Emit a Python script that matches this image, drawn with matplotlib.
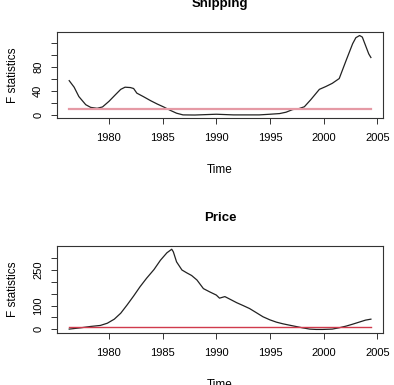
import matplotlib
matplotlib.use('Agg')
import matplotlib.pyplot as plt

plt.rcParams['font.family'] = ['Liberation Sans', 'DejaVu Sans']

# Shipping F statistics
ship_years = [1976.3, 1976.76, 1977.2, 1977.84, 1978.3, 1978.9, 1979.4, 1980.0, 1980.6,
              1981.1, 1981.5, 1982.0, 1982.3, 1982.6, 1983.2, 1983.9, 1984.5, 1985.1,
              1985.7, 1986.3, 1986.9, 1988.0, 1990.0, 1991.6, 1994.0, 1995.0, 1995.9,
              1996.5, 1997.1, 1997.7, 1998.2, 1998.8, 1999.6, 2000.2, 2000.8, 2001.45,
              2002.1, 2002.7, 2003.0, 2003.35, 2003.6, 2003.9, 2004.2, 2004.4]
ship_f = [57.5, 46.6, 31, 17.5, 13, 11.5, 13.7, 23, 34,
          43, 46.6, 46, 44.4, 36.7, 31, 24, 18.6, 13.7,
          8.2, 3.3, 0.5, 0.3, 1.6, 0.5, 0.5, 1.6, 2.7,
          5, 9.3, 11, 14, 25.8, 43, 47.7, 53, 61,
          91.5, 119, 129, 132.6, 130, 116, 102, 96]
ship_crit = 9.9

# Price F statistics
price_years = [1976.3, 1977.4, 1978.3, 1979.2, 1979.85, 1980.5, 1981.1, 1981.7, 1982.3,
               1982.9, 1983.5, 1984.2, 1984.8, 1985.4, 1985.85, 1986.0, 1986.3, 1986.8,
               1987.25, 1987.7, 1988.2, 1988.8, 1989.4, 1990.0, 1990.3, 1990.6, 1990.8,
               1991.3, 1991.9, 1992.5, 1993.1, 1993.7, 1994.35, 1995.0, 1995.6, 1996.2,
               1996.8, 1997.4, 1998.0, 1998.7, 1999.3, 1999.9, 2000.8, 2001.45, 2002.1,
               2002.7, 2003.3, 2003.9, 2004.4]
price_f = [1.4, 7, 12.5, 16.7, 26, 43, 68, 103, 140,
           179, 214, 251, 290, 321, 336, 325, 283, 249,
           237, 226, 207, 171, 157, 144, 131, 135, 137.5,
           126, 112, 100, 87.5, 71, 53, 40, 30.5, 23.6,
           18, 12.5, 7, 1.4, 0, 0, 1.4, 7, 14,
           22, 30.5, 39, 43]
price_crit = 11

x_ticks = [1980, 1985, 1990, 1995, 2000, 2005]


def panel(ax, years, fvals, crit, title, yticks, ylabeled, crit_color, crit_lw):
    ax.plot(years, fvals, color='#222222', lw=0.9)
    ax.plot([years[0], years[-1]], [crit, crit], color=crit_color, lw=crit_lw)
    lo, hi = min(years), max(years)
    pad = 0.04 * (hi - lo)
    ax.set_xlim(lo - pad, hi + pad)
    ymin, ymax = min(fvals), max(fvals)
    ypad = 0.04 * (ymax - ymin)
    ax.set_ylim(ymin - ypad, ymax + ypad)
    ax.set_xticks(x_ticks)
    ax.set_xticklabels([str(t) for t in x_ticks], fontsize=8)
    ax.set_yticks(yticks)
    ax.set_yticklabels([str(t) if t in ylabeled else '' for t in yticks],
                       fontsize=8, rotation=90, va='center')
    ax.tick_params(axis='x', length=4, width=0.7, color='#333333', pad=7)
    ax.tick_params(axis='y', length=4, width=0.7, color='#333333', pad=6)
    for s in ax.spines.values():
        s.set_linewidth(0.8)
        s.set_color('#333333')
    ax.set_title(title, fontsize=9.5, fontweight='bold', pad=18)
    ax.set_xlabel('Time', fontsize=8.5, labelpad=15)
    ax.set_ylabel('F statistics', fontsize=8.5, labelpad=10)


fig = plt.figure(figsize=(3.94, 3.85), dpi=100)
ax1 = fig.add_axes([0.145, 0.693, 0.827, 0.223])
ax2 = fig.add_axes([0.145, 0.136, 0.827, 0.225])

panel(ax1, ship_years, ship_f, ship_crit, 'Shipping',
      [0, 20, 40, 60, 80, 100, 120], [0, 40, 80], '#e59aa5', 1.6)
panel(ax2, price_years, price_f, price_crit, 'Price',
      [0, 50, 100, 150, 200, 250, 300], [0, 100, 250], '#d03a4c', 1.0)

fig.savefig('out.png', dpi=100)
